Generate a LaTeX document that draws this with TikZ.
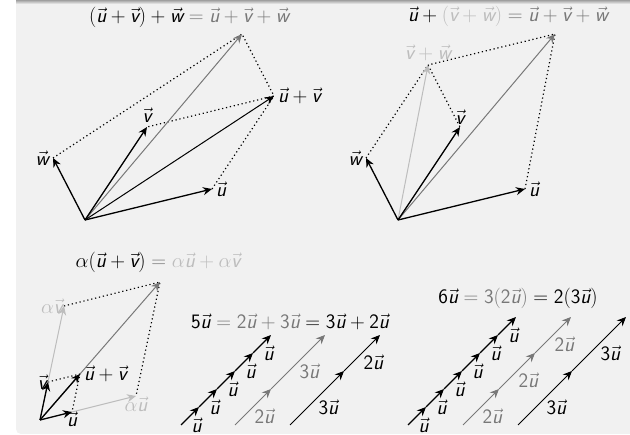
\RequirePackage{fix-cm}
\documentclass[tikz,border=0pt]{standalone}
\usepackage{amsmath}
\usepackage{xcolor}
\usetikzlibrary{arrows.meta,calc,positioning}
\definecolor{vecgray}{rgb}{0.47,0.47,0.47}
\definecolor{veclight}{rgb}{0.74,0.74,0.74}
\definecolor{slidebg}{rgb}{0.945,0.945,0.945}
\newcommand{\sfit}[1]{\text{\sffamily\slshape #1}}
\newcommand{\sfnum}[1]{\text{\sffamily #1}}
\newcommand{\uvec}{\vec{\sfit{u}}}
\newcommand{\vvec}{\vec{\sfit{v}}}
\newcommand{\wvec}{\vec{\sfit{w}}}

\begin{document}
\begin{tikzpicture}[x=1pt, y=-1pt,
  font=\fontsize{20.5}{24}\selectfont,
  vec/.style={-{Stealth[length=9pt,width=8pt]}, line width=1.3pt, black},
  midvec/.style={vec, line width=1pt},
  sumvec/.style={vec, line width=1pt, vecgray},
  partvec/.style={vec, line width=1pt, veclight},
  aux/.style={line width=1.2pt, dash pattern=on 1.2pt off 2.8pt},
  lbl/.style={inner sep=4pt},
  chainlbl/.style={below right, inner sep=1pt}
]
% slide background
\useasboundingbox (0,0) rectangle (630,435);
\fill[white] (0,0) rectangle (630,435);
\fill[slidebg, rounded corners=5pt] (16,-10) rectangle (640,434);
\shade[top color=gray!75, bottom color=slidebg] (16,0) rectangle (630,4);

% (u+v)+w
\coordinate (o1) at (85,220);
\coordinate (u1) at ($(o1)+(127,-31)$);
\coordinate (v1) at ($(o1)+(62,-93)$);
\coordinate (w1) at ($(o1)+(-32,-62)$);
\coordinate (uv1) at ($(u1)+(v1)-(o1)$);
\coordinate (uvw1) at ($(uv1)+(w1)-(o1)$);
\draw[aux] (u1) -- (uv1) -- (v1);
\draw[aux] (w1) -- (uvw1) -- (uv1);
\draw[sumvec] (o1) -- (uvw1);
\draw[midvec] (o1) -- (uv1);
\draw[vec] (o1) -- (u1);
\draw[vec] (o1) -- (v1);
\draw[vec] (o1) -- (w1);
\node[lbl, right] (lu1) at (u1) {$\uvec$};
\node[lbl, above] (lv1) at (v1) {$\vvec$};
\node[lbl, left] (lw1) at (w1) {$\wvec$};
\node[lbl, right] (luv1) at (uv1) {$\uvec+\vvec$};
\node (t1) at (189,17) {$(\uvec+\vvec)+\wvec\mathrel{\textcolor{vecgray}{=}}\textcolor{vecgray}{\uvec+\vvec+\wvec}$};

% u+(v+w)
\coordinate (o2) at (398,220);
\coordinate (u2) at ($(o2)+(127,-31)$);
\coordinate (v2) at ($(o2)+(62,-93)$);
\coordinate (w2) at ($(o2)+(-32,-62)$);
\coordinate (vw2) at ($(v2)+(w2)-(o2)$);
\coordinate (uvw2) at ($(vw2)+(u2)-(o2)$);
\draw[aux] (w2) -- (vw2) -- (v2);
\draw[aux] (u2) -- (uvw2) -- (vw2);
\draw[partvec] (o2) -- (vw2);
\draw[sumvec] (o2) -- (uvw2);
\draw[vec] (o2) -- (u2);
\draw[vec] (o2) -- (v2);
\draw[vec] (o2) -- (w2);
\node[lbl, right] (lu2) at (u2) {$\uvec$};
\node[lbl, above, inner sep=2pt] (lv2) at (v2) {$\vvec$};
\node[lbl, left] (lw2) at (w2) {$\wvec$};
\node[lbl, above, veclight] (lvw2) at (vw2) {$\vvec+\wvec$};
\node (t2) at (508,16) {$\uvec+\textcolor{veclight}{(\vvec+\wvec)}\mathrel{\textcolor{vecgray}{=}}\textcolor{vecgray}{\uvec+\vvec+\wvec}$};

% alpha(u+v)
\coordinate (o3) at (40,420);
\coordinate (u3) at ($(o3)+(32,-8)$);
\coordinate (v3) at ($(o3)+(8,-38)$);
\coordinate (uv3) at ($(u3)+(v3)-(o3)$);
\coordinate (au3) at ($(o3)+3*(32,-8)$);
\coordinate (av3) at ($(o3)+3*(8,-38)$);
\coordinate (auv3) at ($(au3)+(av3)-(o3)$);
\draw[aux] (v3) -- (uv3) -- (u3);
\draw[aux] (av3) -- (auv3) -- (au3);
\draw[partvec] (o3) -- (au3);
\draw[partvec] (o3) -- (av3);
\draw[sumvec] (o3) -- (auv3);
\draw[vec] (o3) -- (uv3);
\draw[vec] (o3) -- (u3);
\draw[vec] (o3) -- (v3);
\node[lbl, below, inner sep=0pt] (lu3) at (u3) {$\uvec$};
\node[lbl, left, inner sep=1pt] (lv3) at (v3) {$\vvec$};
\node[lbl, right] (luv3) at (uv3) {$\uvec+\vvec$};
\node[lbl, below, inner sep=1pt, veclight] (lau3) at (au3) {$\alpha\uvec$};
\node[lbl, left, inner sep=1pt, veclight] (lav3) at (av3) {$\alpha\vvec$};
\node (t3) at (158,262) {$\alpha(\uvec+\vvec)\mathrel{\textcolor{vecgray}{=}}\textcolor{veclight}{\alpha\uvec+\alpha\vvec}$};

% 5u
\foreach \i in {0,...,5} {
  \coordinate (a4\i) at ($(181,425)+\i*(18,-18)$);
}
\foreach \i [count=\j from 1] in {0,...,4} {
  \draw[vec] (a4\i) -- node[chainlbl] (la4\i) {$\uvec$} (a4\j);
}
\coordinate (b40) at (235,425);
\coordinate (b41) at ($(b40)+2*(18,-18)$);
\coordinate (b42) at ($(b40)+5*(18,-18)$);
\draw[sumvec] (b40) -- node[chainlbl] (lb40) {$\sfnum{2}\uvec$} (b41);
\draw[sumvec] (b41) -- node[chainlbl] (lb41) {$\sfnum{3}\uvec$} (b42);
\coordinate (c40) at (290,425);
\coordinate (c41) at ($(c40)+3*(18,-18)$);
\coordinate (c42) at ($(c40)+5*(18,-18)$);
\draw[midvec] (c40) -- node[chainlbl] (lc40) {$\sfnum{3}\uvec$} (c41);
\draw[midvec] (c41) -- node[chainlbl] (lc41) {$\sfnum{2}\uvec$} (c42);
\node (t4) at (290,322) {$\sfnum{5}\uvec\mathrel{\textcolor{vecgray}{=}}\textcolor{vecgray}{\sfnum{2}\uvec+\sfnum{3}\uvec}=\sfnum{3}\uvec+\sfnum{2}\uvec$};

% 6u
\foreach \i in {0,...,6} {
  \coordinate (a5\i) at ($(408,425)+\i*(18,-18)$);
}
\foreach \i [count=\j from 1] in {0,...,5} {
  \draw[vec] (a5\i) -- node[chainlbl] (la5\i) {$\uvec$} (a5\j);
}
\foreach \i in {0,...,3} {
  \coordinate (b5\i) at ($(463,425)+\i*(36,-36)$);
}
\foreach \i [count=\j from 1] in {0,...,2} {
  \draw[sumvec] (b5\i) -- node[chainlbl] (lb5\i) {$\sfnum{2}\uvec$} (b5\j);
}
\foreach \i in {0,...,2} {
  \coordinate (c5\i) at ($(518,425)+\i*(54,-54)$);
}
\foreach \i [count=\j from 1] in {0,...,1} {
  \draw[midvec] (c5\i) -- node[chainlbl] (lc5\i) {$\sfnum{3}\uvec$} (c5\j);
}
\node (t5) at (518,298) {$\sfnum{6}\uvec\mathrel{\textcolor{vecgray}{=}}\textcolor{vecgray}{\sfnum{3}(\sfnum{2}\uvec)}=\sfnum{2}(\sfnum{3}\uvec)$};

\end{tikzpicture}
\end{document}
